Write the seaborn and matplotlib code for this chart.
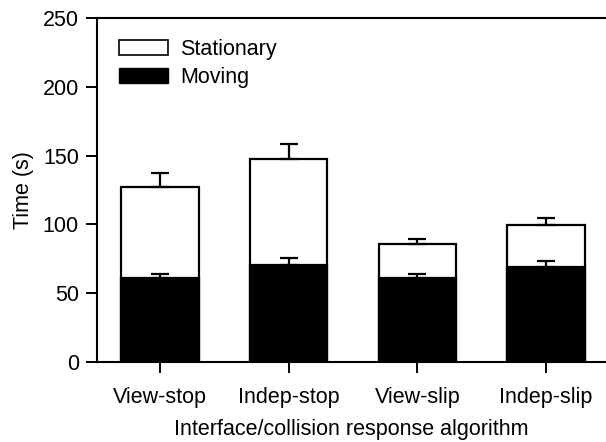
import matplotlib
matplotlib.use("Agg")
import matplotlib.pyplot as plt
import matplotlib.patches as mpatches
import seaborn as sns
import pandas as pd

# --- Data ---
algorithms = ["View-stop", "Indep-stop", "View-slip", "Indep-slip"]
total_time = [127.4, 147.6, 85.8, 99.6]      # stationary + moving
total_err = [9.7, 10.8, 3.6, 4.8]
moving_time = [60.8, 70.5, 60.8, 69.3]
moving_err = [3.1, 4.8, 3.1, 4.3]

sns.set_style("ticks")
plt.rcParams["font.family"] = ["Liberation Sans", "DejaVu Sans"]
plt.rcParams["font.size"] = 15.5
plt.rcParams["text.color"] = "black"
plt.rcParams["axes.labelcolor"] = "black"

df = pd.DataFrame({"alg": algorithms, "total": total_time, "moving": moving_time})

fig = plt.figure(figsize=(6.06, 4.42), dpi=100)
ax = fig.add_axes([0.160, 0.181, 0.84, 0.778])

# stationary part drawn as full-height white bar, moving part over it
sns.barplot(data=df, x="alg", y="total", color="white", edgecolor="black",
            linewidth=1.6, width=0.6, saturation=1, errorbar=None, ax=ax)
sns.barplot(data=df, x="alg", y="moving", color="black", edgecolor="black",
            linewidth=1.6, width=0.6, saturation=1, errorbar=None, ax=ax)

# upward-only error bars
xs = range(len(algorithms))
ax.errorbar(xs, total_time, yerr=[[0] * 4, total_err], fmt="none",
            ecolor="black", elinewidth=1.6, capsize=6.5, capthick=1.6, zorder=5)
ax.errorbar(xs, moving_time, yerr=[[0] * 4, moving_err], fmt="none",
            ecolor="black", elinewidth=1.6, capsize=6.5, capthick=1.6, zorder=5)

ax.set_ylim(0, 250)
ax.set_yticks([0, 50, 100, 150, 200, 250])
ax.set_xlim(-0.49, 3.466)
ax.set_xlabel("Interface/collision response algorithm", labelpad=8, color="black")
ax.set_ylabel("Time (s)", labelpad=6, color="black")

for side in ["left", "bottom", "top"]:
    ax.spines[side].set_linewidth(1.5)
    ax.spines[side].set_color("black")
ax.spines["right"].set_visible(False)
ax.tick_params(axis="both", direction="out", length=8, width=1.4,
               colors="black", labelsize=15.5, pad=5)
ax.tick_params(axis="x", pad=10)

handles = [mpatches.Patch(facecolor="white", edgecolor="black", linewidth=1.2, label="Stationary"),
           mpatches.Patch(facecolor="black", edgecolor="black", label="Moving")]
ax.legend(handles=handles, loc="upper left", bbox_to_anchor=(0.005, 0.995),
          frameon=False, handlelength=2.3, handleheight=0.7,
          labelspacing=0.3, handletextpad=0.55, fontsize=15.5)

fig.savefig("out.png", dpi=100)
